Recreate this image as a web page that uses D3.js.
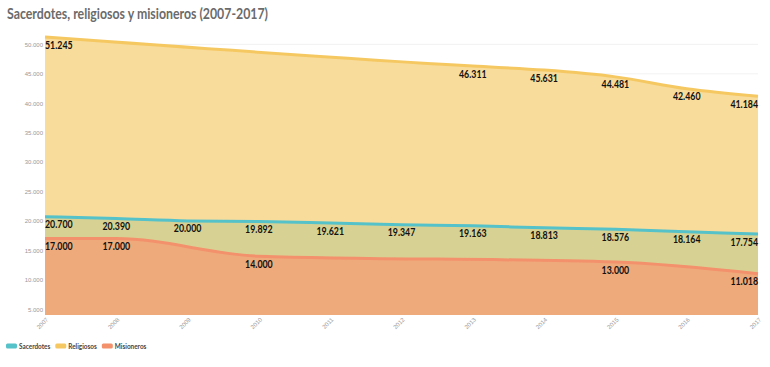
<!DOCTYPE html>
<meta charset="utf-8">
<style>
body{margin:0;background:#fff;font-family:Lato,"Open Sans",sans-serif;}
.title{font-weight:700;fill:#6b6b6b;font-size:16px;}
.tick text{fill:#999;font-size:6px;}
.val{font-weight:700;font-size:11px;fill:#111;}
.leg{font-weight:700;font-size:8px;fill:#444;}
</style>
<body>
<script src="https://d3js.org/d3.v7.min.js"></script>
<script>
var years = [2007,2008,2009,2010,2011,2012,2013,2014,2015,2016,2017];
// null = no data for that year; the line joins the known points
var sacerdotes = [20700,20390,20000,19892,19621,19347,19163,18813,18576,18164,17754];
var religiosos = [51245,null,null,null,null,null,46311,45631,44481,42460,41184];
var misioneros = [17000,17000,null,14000,null,null,null,null,13000,null,11018];
var yTicks = [5000,10000,15000,20000,25000,30000,35000,40000,45000,50000];

var series = [
  {name:"Religiosos", vals:religiosos, line:"#f5c862", fill:"#f8dc9c"},
  {name:"Sacerdotes", vals:sacerdotes, line:"#55c1c9", fill:"#d7d293"},
  {name:"Misioneros", vals:misioneros, line:"#f3916c", fill:"#eeaa7b"}
];
var legendOrder = ["Sacerdotes","Religiosos","Misioneros"];

// narrow the fallback font a bit (original uses a condensed sans)
function squeeze(sel,k){
  var w=0;
  sel.each(function(){
    w=this.getComputedTextLength()*k;
    d3.select(this).attr("textLength",w).attr("lengthAdjust","spacingAndGlyphs");
  });
  return w;
}

var W=770,H=367;
var svg=d3.select("body").append("svg").attr("width",W).attr("height",H);
svg.append("text").attr("class","title").attr("x",7).attr("y",19)
  .text("Sacerdotes, religiosos y misioneros (2007-2017)")
  .attr("textLength",261).attr("lengthAdjust","spacingAndGlyphs");

var x=d3.scaleLinear().domain([2007,2017]).range([45,758]);
var y=d3.scaleLinear().domain([4000,55000]).range([315,15]);
var fmt=d3.formatLocale({decimal:",",thousands:".",grouping:[3]}).format(",d");

// grid
svg.append("g").selectAll("line").data(yTicks).join("line")
  .attr("x1",45).attr("x2",758).attr("y1",d=>y(d)).attr("y2",d=>y(d))
  .attr("stroke","#efefef").attr("stroke-width",0.8);

var yAxis=svg.append("g").attr("transform","translate(45,0)")
  .call(d3.axisLeft(y).tickValues(yTicks).tickSize(0).tickPadding(2).tickFormat(fmt));
yAxis.select(".domain").remove();

series.forEach(function(s){
  var pts=years.map((yr,i)=>({x:yr,v:s.vals[i]})).filter(d=>d.v!=null);
  var area=d3.area().x(d=>x(d.x)).y0(y(4000)).y1(d=>y(d.v)).curve(d3.curveMonotoneX);
  var line=d3.line().x(d=>x(d.x)).y(d=>y(d.v)).curve(d3.curveMonotoneX);
  svg.append("path").datum(pts).attr("d",area).attr("fill",s.fill);
  svg.append("path").datum(pts).attr("d",line).attr("fill","none")
    .attr("stroke",s.line).attr("stroke-width",3);
  s.pts=pts;
});
series.forEach(function(s){
  var t=svg.append("g").selectAll("text").data(s.pts).join("text").attr("class","val")
    .attr("x",d=>x(d.x)).attr("y",d=>y(d.v)+11.5)
    .attr("text-anchor",d=>d.x==2007?"start":(d.x==2017?"end":"middle"))
    .text(d=>fmt(d.v));
  squeeze(t,0.8);
});

var xAxis=svg.append("g").attr("transform","translate(0,315)")
  .call(d3.axisBottom(x).tickValues(years).tickSize(0).tickFormat(d3.format("d")));
xAxis.select(".domain").remove();
xAxis.selectAll("text").attr("text-anchor","end").attr("dy","0")
  .attr("transform","translate(1,3) rotate(-45)");

var lg=svg.append("g").attr("transform","translate(6,346)");
var lx=0;
legendOrder.forEach(function(n){
  var s=series.find(d=>d.name==n);
  lg.append("rect").attr("x",lx).attr("y",-2.5).attr("width",11).attr("height",5).attr("rx",1.5).attr("fill",s.line);
  var t=lg.append("text").attr("class","leg").attr("x",lx+13).attr("y",2.8).text(n);
  lx+=13+squeeze(t,0.8)+5;
});
</script>
</body>
